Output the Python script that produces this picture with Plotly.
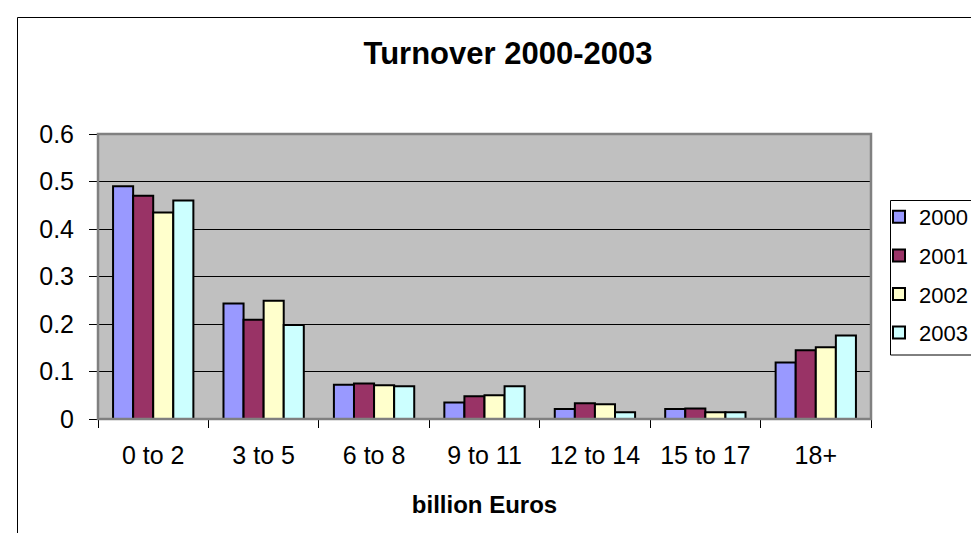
import plotly.graph_objects as go

categories = ["0 to 2", "3 to 5", "6 to 8", "9 to 11", "12 to 14", "15 to 17", "18+"]
series_names = ["2000", "2001", "2002", "2003"]
v2000 = [0.490, 0.243, 0.072, 0.035, 0.021, 0.021, 0.119]
v2001 = [0.470, 0.209, 0.075, 0.048, 0.033, 0.022, 0.145]
v2002 = [0.435, 0.249, 0.071, 0.050, 0.031, 0.014, 0.151]
v2003 = [0.460, 0.198, 0.069, 0.069, 0.014, 0.014, 0.176]
y_ticks = [0, 0.1, 0.2, 0.3, 0.4, 0.5, 0.6]

colors = ["#9999FF", "#993366", "#FFFFCC", "#CCFFFF"]
values = [v2000, v2001, v2002, v2003]

W, H = 979, 533
L, R, T, B = 90, 863, 126, 411

fig = go.Figure()
for name, vals, col in zip(series_names, values, colors):
    fig.add_trace(go.Bar(
        x=categories, y=vals, name=name, legendgroup=name,
        marker=dict(color=col, line=dict(color="black", width=2)),
    ))

def px_to_paper_x(px):
    return (px - L) / (R - L)

def px_to_paper_y(py):
    return (B - py) / (B - T)

font = "Liberation Sans, Arial, sans-serif"

fig.update_layout(
    width=W, height=H,
    margin=dict(l=L, r=W - R, t=T, b=H - B, pad=0, autoexpand=False),
    paper_bgcolor="white",
    plot_bgcolor="#C0C0C0",
    barmode="group",
    bargap=0.2727,
    bargroupgap=0,
    font=dict(family=font, size=24, color="black"),
    title=dict(text="<b>Turnover 2000-2003</b>", x=500 / W, xref="container",
               xanchor="center", y=1 - 45 / H, yref="container", yanchor="middle",
               font=dict(size=31, family=font, color="black")),
    legend=dict(
        x=px_to_paper_x(871), y=px_to_paper_y(188), xanchor="left", yanchor="top",
        borderwidth=0, bgcolor="rgba(0,0,0,0)",
        font=dict(size=22, family=font), tracegroupgap=7, traceorder="grouped",
        itemwidth=30,
    ),
    xaxis=dict(
        type="category", showgrid=False, ticks="outside", ticklen=8, tickcolor="black",
        tickson="boundaries", showline=True, linecolor="black", linewidth=1,
        ticklabelstandoff=14, tickfont=dict(size=25),
        title=dict(text="<b>billion Euros</b>", standoff=28, font=dict(size=24, family=font)),
    ),
    yaxis=dict(
        range=[0, 0.6], tickvals=y_ticks, ticktext=[str(t) for t in y_ticks],
        showgrid=True, gridcolor="black", gridwidth=1, zeroline=False,
        ticks="outside", ticklen=8, tickcolor="black", showline=True, linecolor="black",
        linewidth=1, ticklabelstandoff=10, tickfont=dict(size=25),
    ),
    showlegend=True,
)

# plot area border (gray)
fig.add_shape(type="rect", xref="paper", yref="paper", x0=0, y0=0, x1=1, y1=1,
              line=dict(color="#808080", width=2.5), layer="above")
# outer chart frame
fig.add_shape(type="rect", xref="paper", yref="paper",
              x0=px_to_paper_x(9.5), y0=px_to_paper_y(560), x1=px_to_paper_x(1000), y1=px_to_paper_y(9.5),
              line=dict(color="black", width=1))
# legend box (extends past the right edge, as in the reference)
fig.add_shape(type="rect", xref="paper", yref="paper",
              x0=px_to_paper_x(882.5), y0=px_to_paper_y(347), x1=px_to_paper_x(1000), y1=px_to_paper_y(192.5),
              line=dict(color="black", width=1), fillcolor="white", layer="above")

fig.write_html("out.html")
